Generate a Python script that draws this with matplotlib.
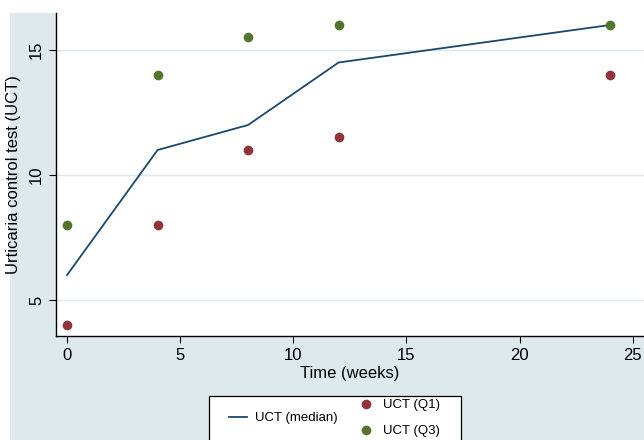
import matplotlib
matplotlib.use("Agg")
import matplotlib.pyplot as plt
from matplotlib.lines import Line2D
from matplotlib.patches import Rectangle

plt.rcParams['font.family'] = ['Liberation Sans', 'DejaVu Sans']

weeks = [0, 4, 8, 12, 24]
uct_median = [6, 11, 12, 14.5, 16]
uct_q1 = [4, 8, 11, 11.5, 14]
uct_q3 = [8, 14, 15.5, 16, 16]

navy = '#1a476f'
maroon = '#90353b'
green = '#55752f'
bg = '#dde9ec'

W, H = 644, 440
fig = plt.figure(figsize=(6.44, 4.4), dpi=100, facecolor='white')
fig.patches.append(Rectangle((10/W, 0), 1 - 10/W, (H-13)/H,
                             transform=fig.transFigure, facecolor=bg,
                             edgecolor='none', zorder=-10))

ax = fig.add_axes([56/W, (H-336)/H, 1 - 56/W, (336-13)/H])
ax.set_facecolor('white')

ax.plot(weeks, uct_median, color=navy, lw=1.3, label='UCT (median)', zorder=3)
ax.plot(weeks, uct_q1, 'o', color=maroon, ms=7, mec='none', label='UCT (Q1)', zorder=4, clip_on=False)
ax.plot(weeks, uct_q3, 'o', color=green, ms=7, mec='none', label='UCT (Q3)', zorder=4, clip_on=False)

ax.set_xlim(-0.49, 25.5)
ax.set_ylim(3.56, 16.48)
ax.set_xticks([0, 5, 10, 15, 20, 25])
ax.set_yticks([5, 10, 15])
ax.grid(axis='y', color=bg, lw=1.0)
ax.set_axisbelow(True)
for s in ['top', 'right']:
    ax.spines[s].set_visible(False)
for s in ['left', 'bottom']:
    ax.spines[s].set_color('black')
    ax.spines[s].set_linewidth(1.0)
ax.tick_params(axis='both', direction='out', length=5, width=0.8, labelsize=12, colors='black')
for lbl in ax.get_yticklabels():
    lbl.set_rotation(90)
    lbl.set_va('center')
ax.set_xlabel('Time (weeks)', fontsize=12, labelpad=2)
ax.set_ylabel('Urticaria control test (UCT)', fontsize=12, labelpad=6)

# legend frame
fig.patches.append(Rectangle((209/W, -5/H), (461-209)/W, (H-396+5)/H,
                             transform=fig.transFigure, facecolor='white',
                             edgecolor='black', lw=0.9, zorder=5))

h_med = Line2D([], [], color=navy, lw=1.3)
h_q1 = Line2D([], [], marker='o', ls='none', color=maroon, ms=7, mec='none')
h_q3 = Line2D([], [], marker='o', ls='none', color=green, ms=7, mec='none')
leg = fig.legend([h_q1, h_q3, h_med], ['UCT (Q1)', 'UCT (Q3)', 'UCT (median)'],
                 ncol=2, loc='upper left', bbox_to_anchor=(229/W, (H-399)/H),
                 fontsize=9.5, frameon=False, borderpad=0, borderaxespad=0,
                 columnspacing=1.4, handlelength=1.4, handletextpad=0.6,
                 labelspacing=1.05)
leg.set_zorder(6)
# put the median column first and centre it vertically
hb = leg._legend_handle_box
hb._children = hb._children[::-1]
hb.align = 'center'

fig.savefig('out.png', dpi=100, facecolor='white')
